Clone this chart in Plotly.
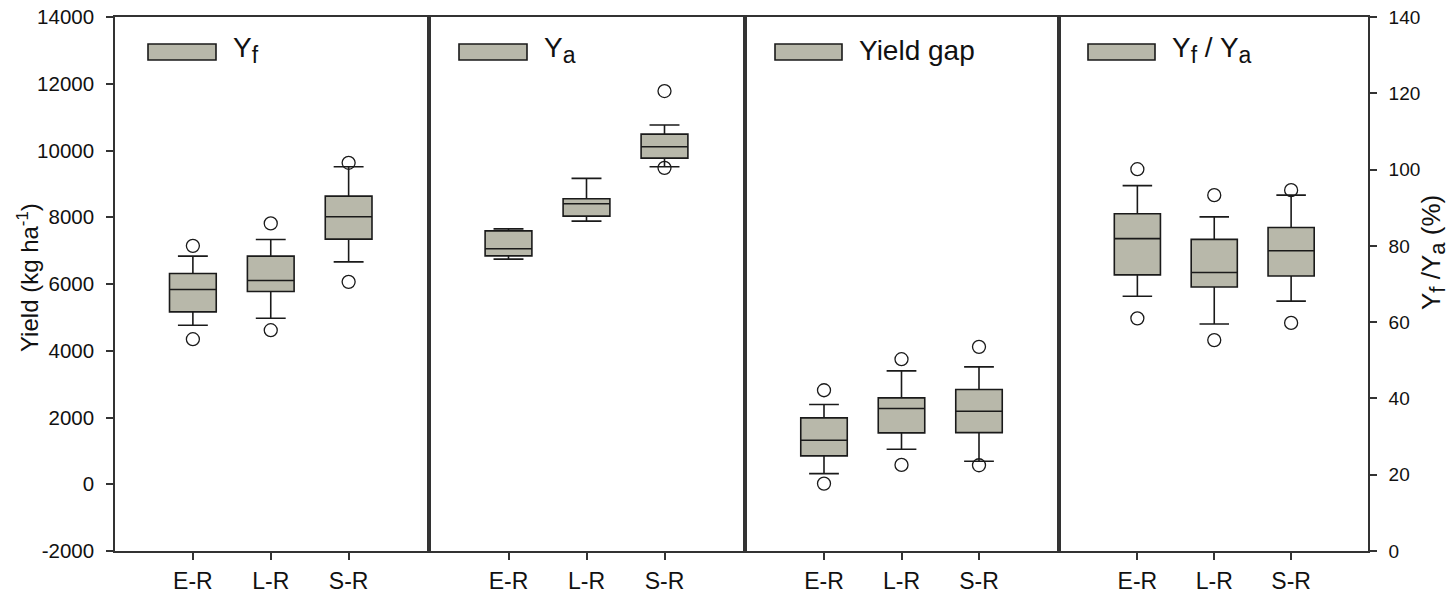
import plotly.graph_objects as go

# ---------------- data ----------------
categories = ["E-R", "L-R", "S-R"]

yf_q1 = [5165, 5776, 7344]
yf_median = [5836, 6106, 8013]
yf_q3 = [6316, 6835, 8634]
yf_low = [4766, 4976, 6664]
yf_high = [6835, 7335, 9512]
yf_out_low = [4346, 4616, 6064]
yf_out_high = [7144, 7815, 9632]

ya_q1 = [6844, 8034, 9773]
ya_median = [7054, 8403, 10112]
ya_q3 = [7593, 8553, 10492]
ya_low = [6745, 7884, 9512]
ya_high = [7653, 9164, 10762]
ya_out_low = [None, None, 9480]
ya_out_high = [None, None, 11781]

gap_q1 = [849, 1538, 1548]
gap_median = [1318, 2268, 2188]
gap_q3 = [1988, 2587, 2838]
gap_low = [319, 1049, 689]
gap_high = [2388, 3397, 3517]
gap_out_low = [19, 579, 569]
gap_out_high = [2817, 3747, 4117]

ratio_q1 = [72.4, 69.2, 72.1]
ratio_median = [81.9, 73.0, 78.7]
ratio_q3 = [88.4, 81.7, 84.8]
ratio_low = [66.8, 59.5, 65.5]
ratio_high = [95.8, 87.6, 93.3]
ratio_out_low = [61.0, 55.3, 59.8]
ratio_out_high = [100.1, 93.3, 94.6]

SUB = '<sub><span style="font-size:23px">{}</span></sub>'
SUB_T = '<sub><span style="font-size:22px">{}</span></sub>'
legend_labels = [
    "Y" + SUB.format("f"),
    "Y" + SUB.format("a"),
    "Yield gap",
    "Y" + SUB.format("f") + " / Y" + SUB.format("a"),
]
left_title = "Yield (kg ha<sup>-1</sup>)"
right_title = "Y" + SUB_T.format("f") + " /Y" + SUB_T.format("a") + " (%)"
yield_ticks = [-2000, 0, 2000, 4000, 6000, 8000, 10000, 12000, 14000]
yield_ticktext = ["-2000", "0", "2000", "4000", "6000", "8000", "10000", "12000", "14000"]
ratio_ticks = [0, 20, 40, 60, 80, 100, 120, 140]
ratio_ticktext = ["0", "20", "40", "60", "80", "100", "120", "140"]

# ---------------- layout geometry (pixels) ----------------
W, H = 1456, 596
ML, MR, MT, MB = 115, 88, 17, 45
PW = W - ML - MR
PH = H - MT - MB
panels_px = [(115, 426.5), (430.5, 742.5), (746.5, 1056.5), (1060.5, 1368)]
legend_rect_px = [(148, 216), (459, 527), (775, 842), (1088, 1155)]
legend_text_px = [231, 542, 857, 1170]

FILL = "#b8b8aa"
LINE = "#1a1a1a"
AXC = "#333333"
FONT = "Arial, Liberation Sans, sans-serif"


def px_x(p):
    return (p - ML) / PW


def px_y(p):
    return 1 - (p - MT) / PH


fig = go.Figure()

series = [
    (yf_q1, yf_median, yf_q3, yf_low, yf_high, yf_out_low, yf_out_high),
    (ya_q1, ya_median, ya_q3, ya_low, ya_high, ya_out_low, ya_out_high),
    (gap_q1, gap_median, gap_q3, gap_low, gap_high, gap_out_low, gap_out_high),
    (ratio_q1, ratio_median, ratio_q3, ratio_low, ratio_high, ratio_out_low, ratio_out_high),
]

xpos = list(range(len(categories)))

for i, (q1, med, q3, lo, hi, olo, ohi) in enumerate(series):
    xa = "x" if i == 0 else f"x{i+1}"
    ya = "y" if i == 0 else f"y{i+1}"
    fig.add_trace(go.Box(
        x=xpos, q1=q1, median=med, q3=q3, lowerfence=lo, upperfence=hi,
        width=0.6, whiskerwidth=0.64, fillcolor=FILL,
        line=dict(color=LINE, width=1.6), boxpoints=False,
        xaxis=xa, yaxis=ya, showlegend=False, hoverinfo="skip",
    ))
    ox, oy = [], []
    for k in range(len(categories)):
        for v in (olo[k], ohi[k]):
            if v is not None:
                ox.append(xpos[k])
                oy.append(v)
    fig.add_trace(go.Scatter(
        x=ox, y=oy, mode="markers",
        marker=dict(symbol="circle-open", size=13, color=LINE, line=dict(width=1.3)),
        xaxis=xa, yaxis=ya, showlegend=False, hoverinfo="skip",
    ))

layout = dict(
    width=W, height=H,
    margin=dict(l=ML, r=MR, t=MT, b=MB, autoexpand=False),
    paper_bgcolor="white", plot_bgcolor="white",
    font=dict(family=FONT, color="#111111"),
    showlegend=False,
)

for i, (a, b) in enumerate(panels_px):
    xk = "xaxis" if i == 0 else f"xaxis{i+1}"
    yk = "yaxis" if i == 0 else f"yaxis{i+1}"
    ya = "y" if i == 0 else f"y{i+1}"
    xa = "x" if i == 0 else f"x{i+1}"
    layout[xk] = dict(
        domain=[px_x(a), px_x(b)], anchor=ya, range=[-1, 3],
        tickmode="array", tickvals=xpos, ticktext=categories,
        ticks="outside", ticklen=7, tickwidth=1.6, tickcolor=AXC,
        showline=True, linecolor=AXC, linewidth=1.6, mirror=True,
        showgrid=False, zeroline=False, tickfont=dict(size=23, family=FONT),
        ticklabelstandoff=2,
    )
    ydict = dict(
        domain=[0, 1], anchor=xa,
        showline=True, linecolor=AXC, linewidth=1.6, mirror=True,
        showgrid=False, zeroline=False,
    )
    if i < 3:
        ydict["range"] = [-2000, 14000]
    else:
        ydict["range"] = [0, 140]
    if i == 0:
        ydict.update(
            tickmode="array", tickvals=yield_ticks, ticktext=yield_ticktext,
            ticks="outside", ticklen=7,
            tickwidth=1.6, tickcolor=AXC, tickfont=dict(size=20.5, family=FONT),
            ticklabelstandoff=8,
        )
    elif i == 3:
        ydict.update(
            side="right",
            tickmode="array", tickvals=ratio_ticks, ticktext=ratio_ticktext,
            ticks="outside", ticklen=7,
            tickwidth=1.6, tickcolor=AXC, tickfont=dict(size=19, family=FONT),
            ticklabelstandoff=8,
        )
    else:
        ydict.update(showticklabels=False, ticks="")
    layout[yk] = ydict

shapes = []
annotations = []
for i in range(4):
    r0, r1 = legend_rect_px[i]
    shapes.append(dict(
        type="rect", xref="paper", yref="paper",
        x0=px_x(r0), x1=px_x(r1), y0=px_y(60), y1=px_y(44),
        fillcolor=FILL, line=dict(color=LINE, width=1.6),
    ))
    annotations.append(dict(
        xref="paper", yref="paper", x=px_x(legend_text_px[i]), y=px_y(50),
        xanchor="left", yanchor="middle", showarrow=False,
        text=legend_labels[i], font=dict(size=28, family=FONT, color="#111111"),
    ))

# axis titles
annotations.append(dict(
    xref="paper", yref="paper", x=px_x(28), y=px_y(277),
    xanchor="center", yanchor="middle", showarrow=False, textangle=-90,
    text=left_title, font=dict(size=24, family=FONT, color="#111111"),
))
annotations.append(dict(
    xref="paper", yref="paper", x=px_x(1433), y=px_y(253),
    xanchor="center", yanchor="middle", showarrow=False, textangle=-90,
    text=right_title, font=dict(size=26, family=FONT, color="#111111"),
))
layout["shapes"] = shapes
layout["annotations"] = annotations

fig.update_layout(**layout)
fig.write_html("out.html")
